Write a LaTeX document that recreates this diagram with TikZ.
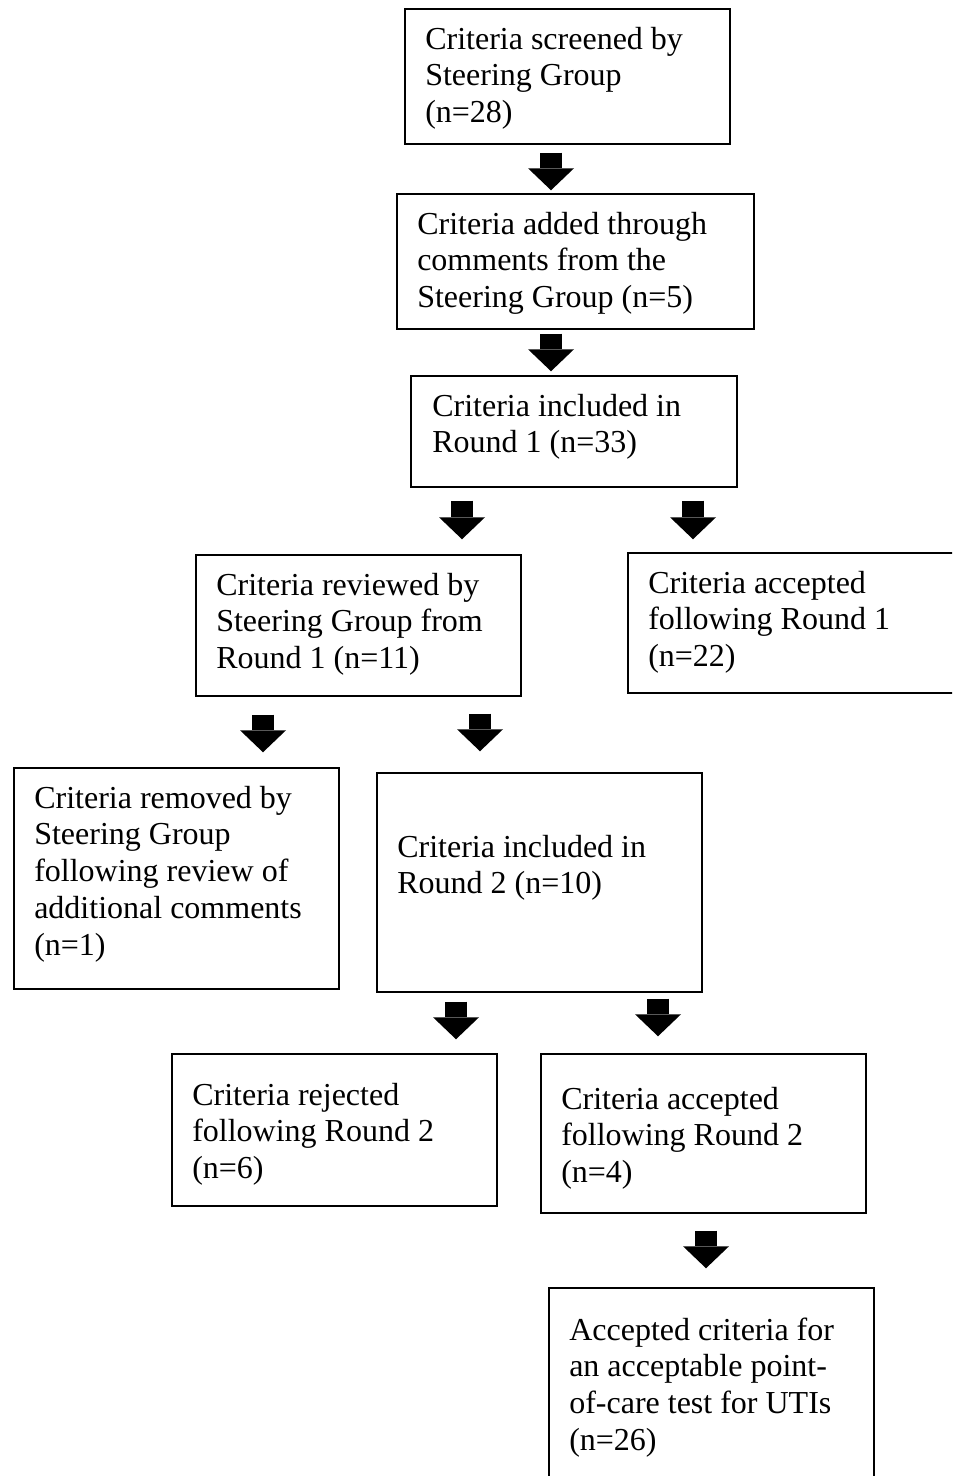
\documentclass[tikz,border=0pt]{standalone}
\usepackage{fontspec}
\setmainfont{Liberation Serif}
\usetikzlibrary{arrows.meta}
\tikzset{
  box/.style={draw=black, line width=1.1pt, rectangle, inner sep=0pt, fill=none},
  txt/.style={anchor=north west, inner sep=0pt, align=left,
    font=\fontsize{24pt}{27.6pt}\selectfont},
  blockarrow/.style={line width=16.5pt, black,
    -{Triangle[width=34.5pt,length=16.5pt,line width=0pt]}}
}
\begin{document}
\begin{tikzpicture}[x=0.75pt,y=-0.75pt]
\path[use as bounding box] (0,0) rectangle (952,1476);
\clip (0,0) rectangle (952,1476);
\fill[white] (0,0) rectangle (952,1476);
% boxes
\node[box, minimum width=325pt*0.75, minimum height=135pt*0.75] (b1) at (567.5,76.5) {};
\node[box, minimum width=357pt*0.75, minimum height=135pt*0.75] (b2) at (575.5,261.5) {};
\node[box, minimum width=326pt*0.75, minimum height=111pt*0.75] (b3) at (574,431.5) {};
\node[box, minimum width=325pt*0.75, minimum height=141pt*0.75] (b4) at (358.5,625.5) {};
\node[box, minimum width=372pt*0.75, minimum height=140pt*0.75] (b5) at (814,623) {};
\node[box, minimum width=325pt*0.75, minimum height=221pt*0.75] (b6) at (176.5,878.5) {};
\node[box, minimum width=325pt*0.75, minimum height=219pt*0.75] (b7) at (539.5,882.5) {};
\node[box, minimum width=325pt*0.75, minimum height=152pt*0.75] (b8) at (334.5,1130) {};
\node[box, minimum width=325pt*0.75, minimum height=159pt*0.75] (b9) at (703.5,1133.5) {};
\node[box, minimum width=325pt*0.75, minimum height=232pt*0.75] (b10) at (711.5,1404) {};
% texts
\node[txt] (t1) at (425,23) {\strut Criteria screened by\\\strut Steering Group\\\strut (n=28)};
\node[txt] (t2) at (417,208) {\strut Criteria added through\\\strut comments from the\\\strut Steering Group (n=5)};
\node[txt] (t3) at (432,390) {\strut Criteria included in\\\strut Round 1 (n=33)};
\node[txt] (t4) at (216,569) {\strut Criteria reviewed by\\\strut Steering Group from\\\strut Round 1 (n=11)};
\node[txt] (t5) at (648,567) {\strut Criteria accepted\\\strut following Round 1\\\strut (n=22)};
\node[txt] (t6) at (34,782) {\strut Criteria removed by\\\strut Steering Group\\\strut following review of\\\strut additional comments\\\strut (n=1)};
\node[txt] (t7) at (397,831) {\strut Criteria included in\\\strut Round 2 (n=10)};
\node[txt] (t8) at (192,1079) {\strut Criteria rejected\\\strut following Round 2\\\strut (n=6)};
\node[txt] (t9) at (561,1083) {\strut Criteria accepted\\\strut following Round 2\\\strut (n=4)};
\node[txt] (t10) at (569,1314) {\strut Accepted criteria for\\\strut an acceptable point-\\\strut of-care test for UTIs\\\strut (n=26)};
% arrows
\draw[blockarrow] ([shift={(-16.5,8)}]b1.south) -- ([shift={(-24.5,-3)}]b2.north);
\draw[blockarrow] ([shift={(-24.5,4)}]b2.south) -- ([shift={(-23,-4)}]b3.north);
\draw[blockarrow] ([shift={(-112,13)}]b3.south) -- ([shift={(103.5,-15)}]b4.north);
\draw[blockarrow] ([shift={(119,13)}]b3.south) -- ([shift={(-121,-13)}]b5.north);
\draw[blockarrow] ([shift={(-95.5,18)}]b4.south) -- ([shift={(86.5,-15)}]b6.north);
\draw[blockarrow] ([shift={(121.5,17)}]b4.south) -- ([shift={(-59.5,-21)}]b7.north);
\draw[blockarrow] ([shift={(-83.5,9)}]b7.south) -- ([shift={(121.5,-14)}]b8.north);
\draw[blockarrow] ([shift={(118.5,6)}]b7.south) -- ([shift={(-45.5,-17)}]b9.north);
\draw[blockarrow] ([shift={(2.5,17)}]b9.south) -- ([shift={(-5.5,-19)}]b10.north);
\end{tikzpicture}
\end{document}
